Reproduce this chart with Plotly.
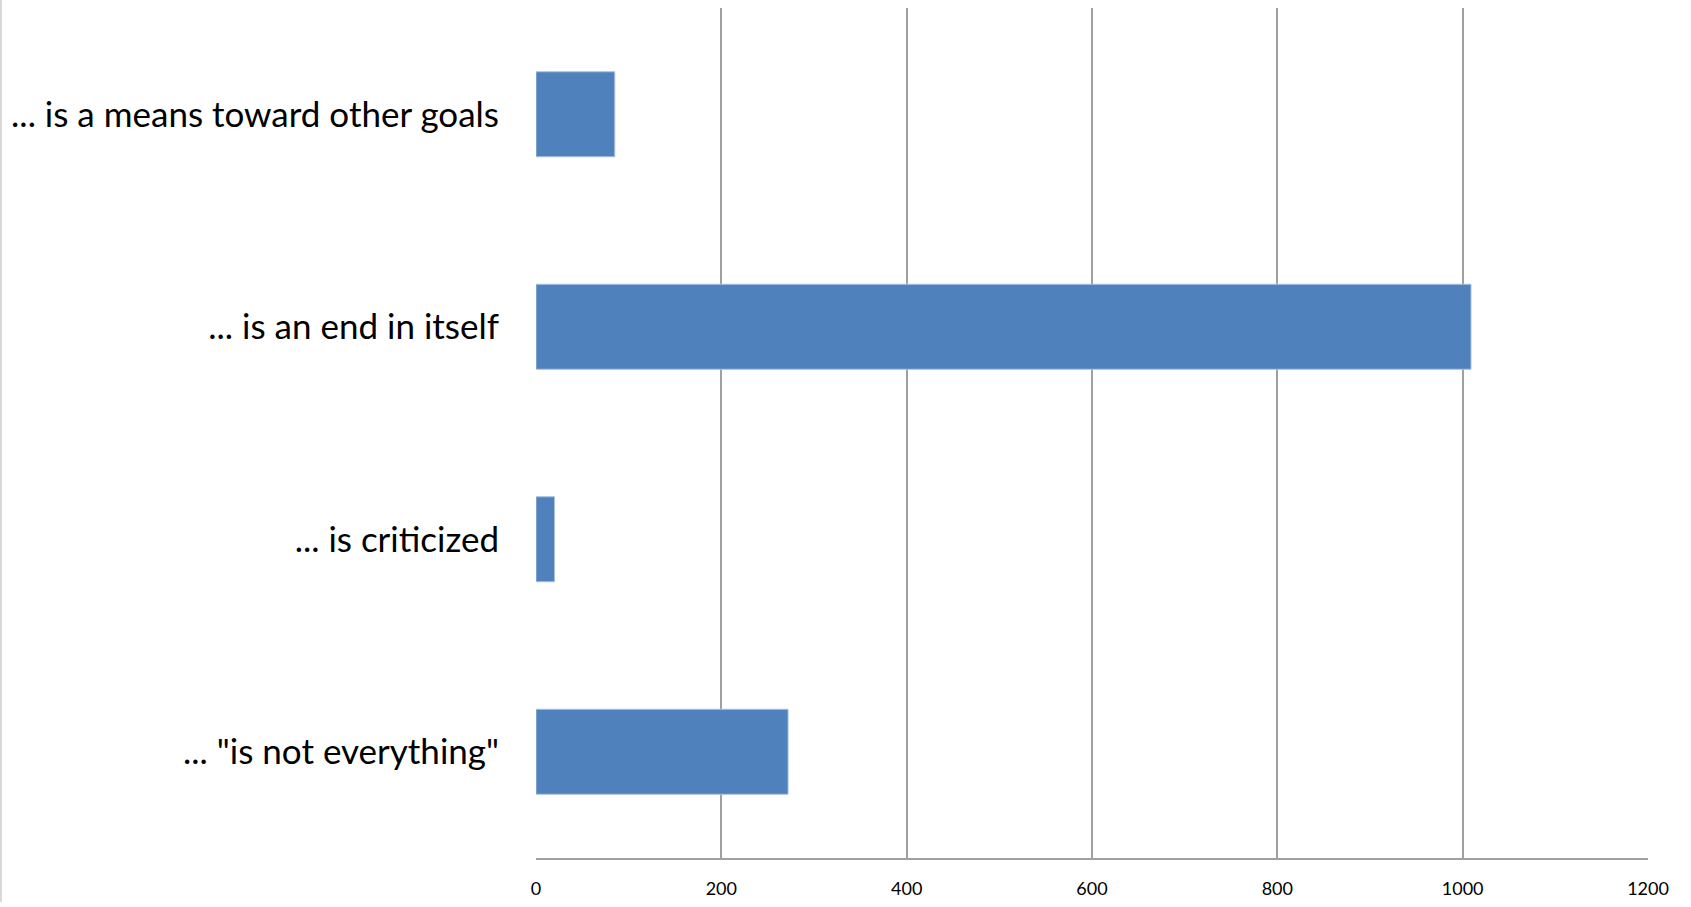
import plotly.graph_objects as go

categories = [
    "... is a means toward other goals",
    "... is an end in itself",
    "... is criticized",
    '... "is not everything"',
]
values = [85, 1009, 20, 272]
x_ticks = [0, 200, 400, 600, 800, 1000, 1200]

fig = go.Figure()
fig.add_trace(go.Bar(
    y=categories,
    x=values,
    orientation="h",
    width=0.4,
    marker=dict(color="#4F81BD", line=dict(color="#a9c1e0", width=1)),
    hoverinfo="x+y",
))

fig.update_layout(
    width=1691,
    height=907,
    margin=dict(l=536, r=43, t=8, b=44),
    paper_bgcolor="white",
    plot_bgcolor="white",
    showlegend=False,
    font=dict(family="Lato, 'Open Sans', sans-serif", color="#000000"),
    xaxis=dict(
        range=[0, 1200],
        tickvals=x_ticks,
        ticktext=[str(t) for t in x_ticks],
        showgrid=True,
        gridcolor="#a0a0a0",
        gridwidth=1.5,
        zeroline=False,
        showline=True,
        linecolor="#a0a0a0",
        linewidth=2,
        ticks="",
        tickfont=dict(size=18, family="Lato, sans-serif"),
        ticklabelstandoff=13,
        fixedrange=True,
    ),
    yaxis=dict(
        categoryorder="array",
        categoryarray=categories,
        autorange="reversed",
        showgrid=False,
        zeroline=False,
        showline=False,
        ticks="",
        tickfont=dict(size=35, family="Lato, sans-serif"),
        ticklabelstandoff=36,
        fixedrange=True,
    ),
    shapes=[
        dict(type="line", xref="paper", yref="paper", x0=-535/1112, x1=-535/1112,
             y0=-44/855, y1=1 + 8/855, line=dict(color="#d9d9d9", width=2)),
    ],
)

fig.write_html(
    "out.html",
    config={"displayModeBar": False},
    post_script="document.body.style.margin='0';document.body.style.overflow='hidden';",
)
